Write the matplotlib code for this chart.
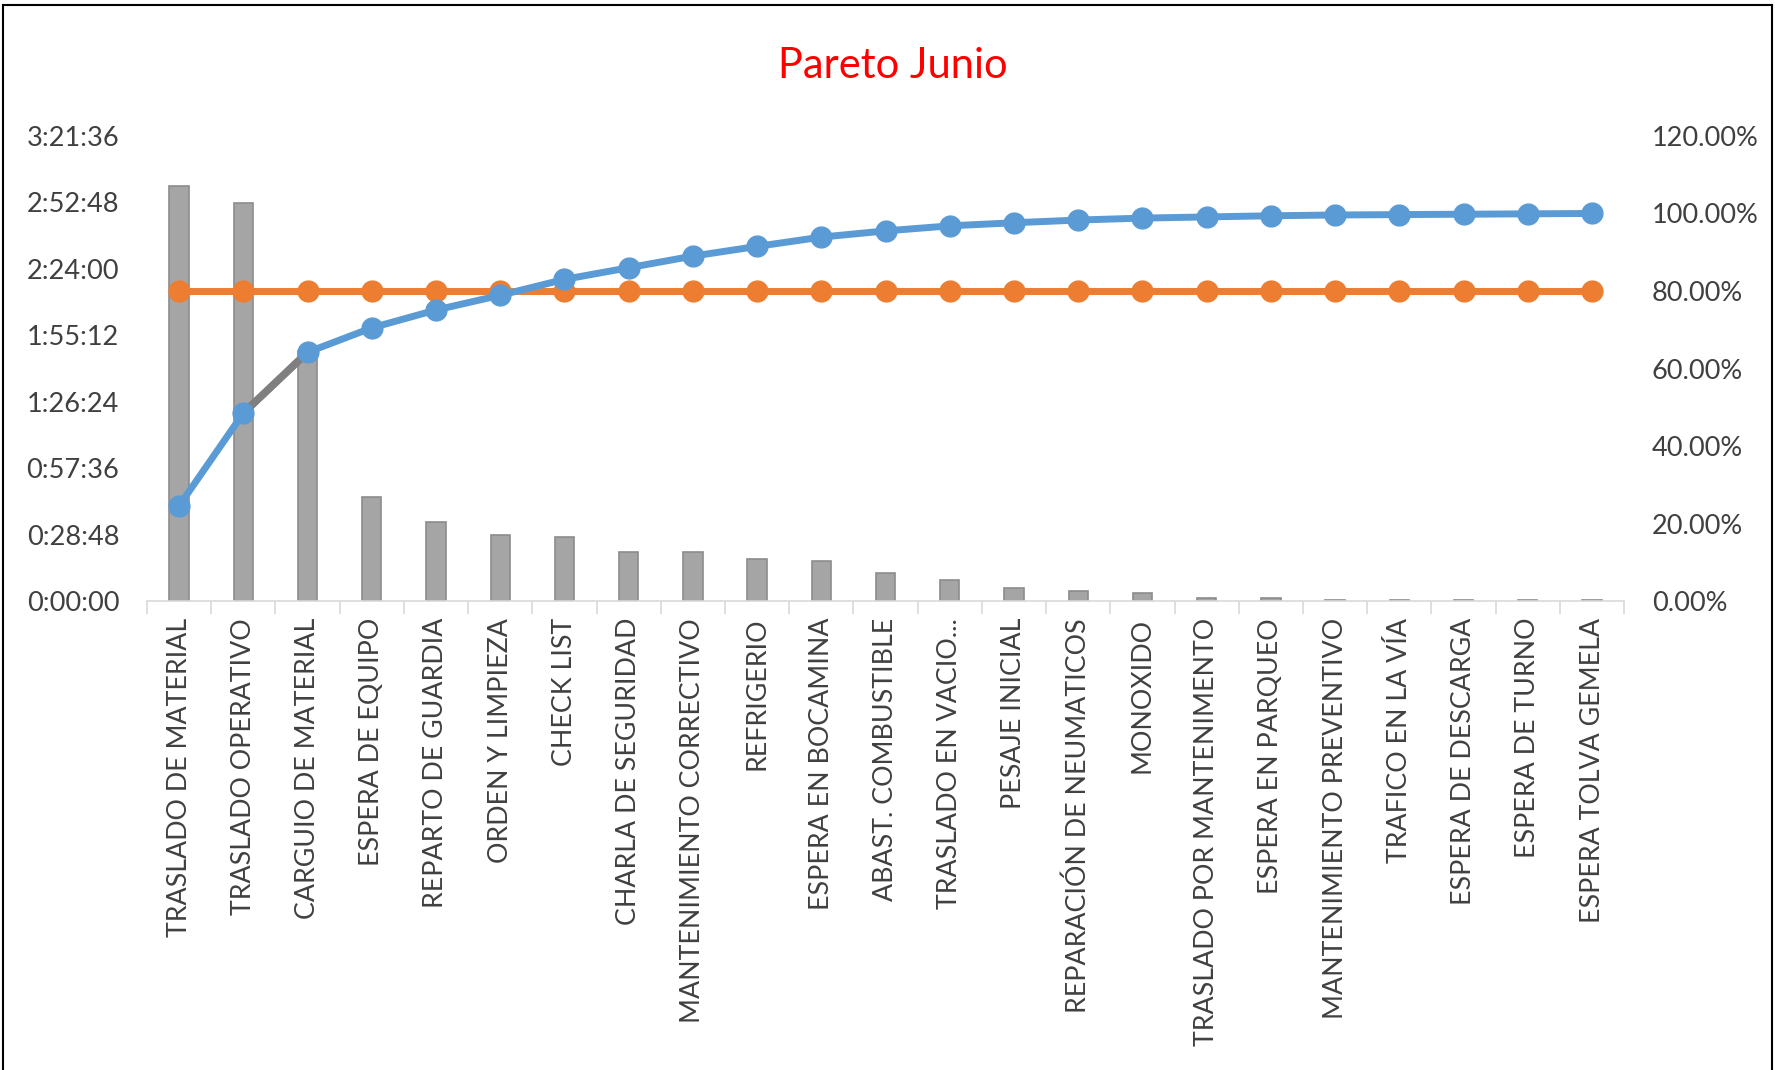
import matplotlib
matplotlib.use("Agg")
import matplotlib.pyplot as plt
from matplotlib.lines import Line2D
from matplotlib.ticker import FixedLocator, FuncFormatter

plt.rcParams["font.family"] = ["Lato", "DejaVu Sans"]

categories = [
    "TRASLADO DE MATERIAL", "TRASLADO OPERATIVO", "CARGUIO DE MATERIAL",
    "ESPERA DE EQUIPO", "REPARTO DE GUARDIA", "ORDEN Y LIMPIEZA", "CHECK LIST",
    "CHARLA DE SEGURIDAD", "MANTENIMIENTO CORRECTIVO", "REFRIGERIO",
    "ESPERA EN BOCAMINA", "ABAST. COMBUSTIBLE", "TRASLADO EN VACIO...",
    "PESAJE INICIAL", "REPARACIÓN DE NEUMATICOS", "MONOXIDO",
    "TRASLADO POR MANTENIMENTO", "ESPERA EN PARQUEO", "MANTENIMIENTO PREVENTIVO",
    "TRAFICO EN LA VÍA", "ESPERA DE DESCARGA", "ESPERA DE TURNO",
    "ESPERA TOLVA GEMELA",
]
# duration of each cause, minutes
minutes = [179.8, 172.4, 108.2, 45.0, 34.2, 28.5, 27.7, 21.2, 21.2, 18.1,
           17.3, 12.3, 9.4, 5.8, 4.3, 3.6, 1.4, 1.4, 0.7, 0.7, 0.7, 0.7, 0.7]
# cumulative percentage
cum_pct = [24.6, 48.5, 64.2, 70.5, 75.1, 78.9, 83.0, 86.0, 89.0, 91.5, 93.9,
           95.5, 96.8, 97.6, 98.3, 98.8, 99.1, 99.4, 99.6, 99.7, 99.8, 99.9, 100.0]
target_pct = [80.0] * len(categories)
highlight = [1, 2]  # gray segment of the cumulative line

left_ticks = [0, 28.8, 57.6, 86.4, 115.2, 144.0, 172.8, 201.6]
right_ticks = [0, 20, 40, 60, 80, 100, 120]

BLUE = "#5B9BD5"
ORANGE = "#ED7D31"
BAR = "#A5A5A5"


def hms(m, pos=None):
    s = int(round(m * 60))
    return f"{s // 3600}:{(s % 3600) // 60:02d}:{s % 60:02d}"


fig = plt.figure(figsize=(17.75, 10.7), dpi=100)
ax = fig.add_axes([0.0828, 0.4381, 0.8322, 0.4349])
x = list(range(len(categories)))

ax.bar(x, minutes, width=0.3, color=BAR, edgecolor="#8C8C8C", linewidth=1.2, zorder=2)
ax.set_xlim(-0.5, len(categories) - 0.5)
ax.set_ylim(0, 201.6)
ax.yaxis.set_major_locator(FixedLocator(left_ticks))
ax.yaxis.set_major_formatter(FuncFormatter(hms))
ax.tick_params(axis="y", length=0, pad=20, labelsize=19.5, labelcolor="#404040")

ax.set_xticks(x)
ax.set_xticklabels(categories, rotation=90, fontsize=19.3, color="#404040",
                   va="top", ha="center")
ax.set_xticks([i - 0.5 for i in range(len(categories) + 1)], minor=True)
ax.tick_params(axis="x", which="major", length=0, pad=12)
ax.tick_params(axis="x", which="minor", length=9, width=1.2, color="#D9D9D9")
for s in ["top", "left", "right"]:
    ax.spines[s].set_visible(False)
ax.spines["bottom"].set_color("#D9D9D9")
ax.spines["bottom"].set_linewidth(1.2)

ax2 = ax.twinx()
ax2.set_ylim(0, 120)
ax2.yaxis.set_major_locator(FixedLocator(right_ticks))
ax2.yaxis.set_major_formatter(FuncFormatter(lambda v, p: f"{v:.2f}%"))
ax2.tick_params(axis="y", length=0, pad=20, labelsize=19.5, labelcolor="#404040")
for s in ax2.spines.values():
    s.set_visible(False)

ax2.plot(x, target_pct, color=ORANGE, lw=5, marker="o", ms=15, zorder=3)
ax2.plot(x, cum_pct, color=BLUE, lw=5, zorder=4)
ax2.plot(highlight, [cum_pct[i] for i in highlight], color="#7F7F7F", lw=5.5, zorder=5)
ax2.plot(x, cum_pct, color=BLUE, lw=0, marker="o", ms=15, zorder=6)

fig.text(0.503, 0.9386, "Pareto Junio", color="#FF0000", fontsize=30,
         ha="center", va="center")

# chart frame
fig.add_artist(Line2D([0.0015, 0.0015], [0, 0.995], color="black", lw=1.5))
fig.add_artist(Line2D([0.0015, 0.9985], [0.995, 0.995], color="black", lw=1.5))
fig.add_artist(Line2D([0.9985, 0.9985], [0, 0.995], color="black", lw=1.5))

fig.savefig("out.png", dpi=100)
